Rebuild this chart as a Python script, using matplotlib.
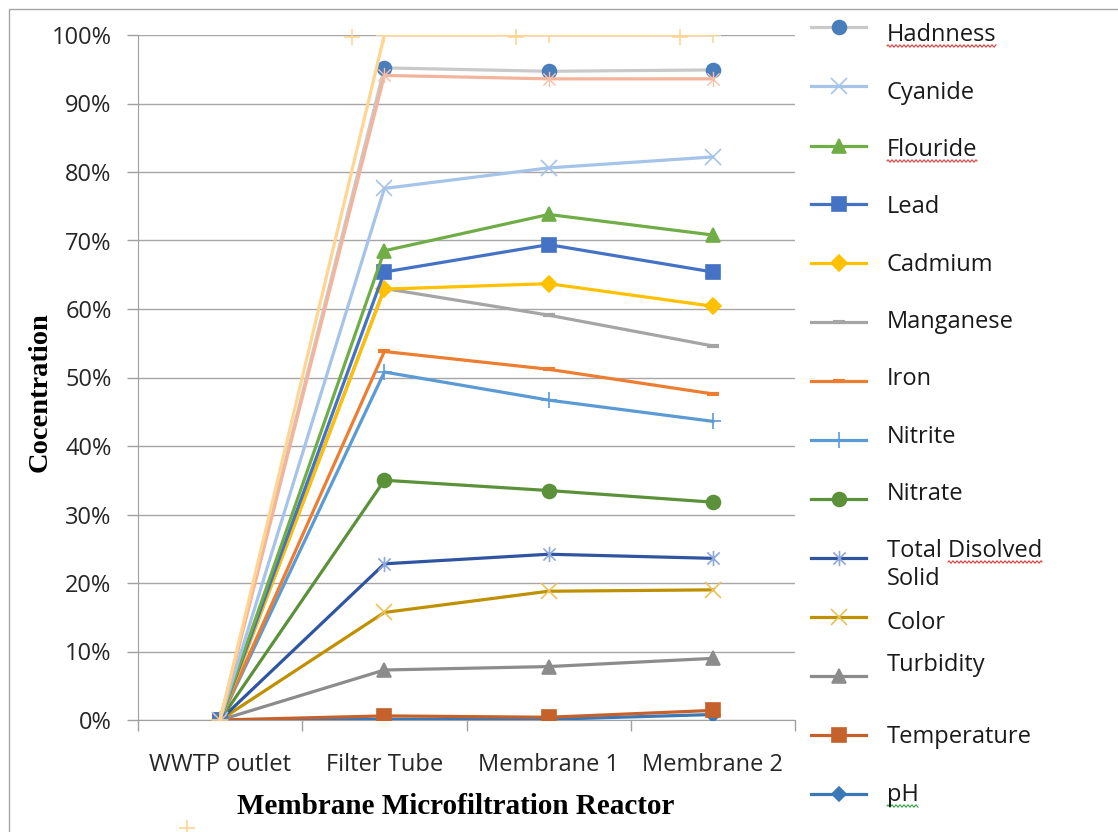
import numpy as np
import matplotlib
matplotlib.use('Agg')
import matplotlib.pyplot as plt
from matplotlib.path import Path
from matplotlib.lines import Line2D
from matplotlib.patches import Rectangle

# 数据（百分比）
categories = ['WWTP outlet', 'Filter Tube', 'Membrane 1', 'Membrane 2']
hadnness = [0, 95.2, 94.7, 94.9]
cyanide = [0, 77.6, 80.6, 82.2]
flouride = [0, 68.5, 73.8, 70.8]
lead = [0, 65.4, 69.4, 65.4]
cadmium = [0, 62.9, 63.7, 60.4]
manganese = [0, 63.0, 59.1, 54.6]
iron = [0, 53.8, 51.2, 47.6]
nitrite = [0, 50.8, 46.7, 43.6]
nitrate = [0, 35.0, 33.5, 31.8]
tds = [0, 22.8, 24.2, 23.6]
color = [0, 15.7, 18.8, 19.0]
turbidity = [0, 7.3, 7.8, 9.0]
temperature = [0, 0.6, 0.4, 1.4]
ph = [0, 0.1, 0.1, 0.8]
# 图例里没有的两条线
salmon_series = [0, 94.1, 93.6, 93.6]
peach_series = [0, 100, 100, 100]
peach_extra = [-15.8, 99.7, 99.7, 99.7]

# Excel 风格的星号标记 (x 加竖线)
star_path = Path([(0, -1), (0, 1), (-0.8, -0.8), (0.8, 0.8), (-0.8, 0.8), (0.8, -0.8)],
                 [Path.MOVETO, Path.LINETO, Path.MOVETO, Path.LINETO, Path.MOVETO, Path.LINETO])

# (名称, 数据, 线色, 标记, 标记色, 标记大小)
series = [
    ('pH', ph, '#3A78B8', 'D', '#3A78B8', 7),
    ('Temperature', temperature, '#C5612B', 's', '#C5612B', 10),
    ('Turbidity', turbidity, '#8C8C8C', '^', '#8C8C8C', 10),
    ('Color', color, '#BF9000', 'x', '#E8C35A', 11),
    ('Total Disolved\nSolid', tds, '#2F55A0', star_path, '#8FA8DC', 11),
    ('Nitrate', nitrate, '#5A9139', 'o', '#5A9139', 10),
    ('Nitrite', nitrite, '#5B9BD5', '+', '#5B9BD5', 11),
    ('Iron', iron, '#ED7D31', '_', '#ED7D31', 8),
    ('Manganese', manganese, '#A5A5A5', '_', '#A5A5A5', 8),
    ('Cadmium', cadmium, '#FFC000', 'D', '#FFC000', 8),
    ('Lead', lead, '#4472C4', 's', '#4472C4', 10),
    ('Flouride', flouride, '#70AD47', '^', '#70AD47', 10),
    ('Cyanide', cyanide, '#A6C3E9', 'x', '#A6C3E9', 11),
    ('Hadnness', hadnness, '#C9C9C9', 'o', '#4A7EBB', 10),
]

plt.rcParams['font.family'] = ['Open Sans', 'DejaVu Sans']
FS = 17

fig = plt.figure(figsize=(11.18, 8.32), dpi=100)
W, H = 1118, 832
ax = fig.add_axes([138 / W, 1 - 720 / H, (795 - 138) / W, (720 - 35) / H])

x = np.arange(len(categories))

for name, vals, lc, mk, mc, ms in series:
    ax.plot(x, vals, color=lc, lw=2.3, marker=mk, markersize=ms,
            markerfacecolor=mc, markeredgecolor=mc, markeredgewidth=1.2 if mk not in ('_',) else 3,
            solid_joinstyle='miter', zorder=3)

ax.plot(x, salmon_series, color='#F4B49C', lw=2.3, marker=star_path, markersize=11,
        markeredgecolor='#F6BFAB', markeredgewidth=1.0, zorder=3)
ax.plot(x, peach_series, color='#FFD592', lw=2.3, marker='+', markersize=12,
        markeredgecolor='#FFD592', markeredgewidth=1.2, zorder=3)
ax.plot(x - 0.2, peach_extra, ls='none', marker='+', markersize=12,
        markeredgecolor='#FFD592', markeredgewidth=1.2, zorder=3, clip_on=False)

ax.set_xlim(-0.5, 3.5)
ax.set_ylim(0, 100)
ax.set_yticks(np.arange(0, 101, 10))
ax.set_yticklabels([f'{v}%' for v in range(0, 101, 10)], fontsize=FS, color='#262626')
ax.set_xticks(x)
ax.set_xticklabels(categories, fontsize=FS, color='#262626')
ax.set_xticks(np.arange(-0.5, 3.6, 1), minor=True)
ax.tick_params(axis='x', which='major', length=0, pad=24)
ax.tick_params(axis='x', which='minor', length=8, color='#A0A0A0', width=1)
ax.tick_params(axis='y', length=8, color='#A0A0A0', width=1, pad=11)
ax.grid(axis='y', color='#A6A6A6', lw=1)
ax.set_axisbelow(True)
for s in ['top', 'right']:
    ax.spines[s].set_visible(False)
ax.spines['left'].set_color('#A0A0A0')
ax.spines['bottom'].set_color('#A0A0A0')

fig.text(40 / W, 1 - 392 / H, 'Cocentration', rotation=90, ha='center', va='center',
         fontsize=20.5, fontweight='bold', family='Liberation Serif')
fig.text(456 / W, 1 - 806 / H, 'Membrane Microfiltration Reactor', ha='center', va='center',
         fontsize=21, fontweight='bold', family='Liberation Serif')

# 图表外框
fig.patches.append(Rectangle((9 / W, -0.1), 1.2, 1 - 9 / H + 0.1, transform=fig.transFigure,
                             fill=False, edgecolor='#A6A6A6', lw=1))

# 图例（手工排版）
legend_rows = list(reversed(series))
line_y = [27, 86, 146, 204, 263, 322, 381, 440, 499, 558, 617, 676, 735, 794]
text_dy = [8, 7, 4, 3, 2, 0, -2, -3, -5, 0, 6, -11, 2, 1]
texts = []
for (name, vals, lc, mk, mc, ms), ly, dy in zip(legend_rows, line_y, text_dy):
    fig.add_artist(Line2D([811 / W, 866 / W], [1 - ly / H] * 2, color=lc, lw=2.3))
    fig.add_artist(Line2D([838.5 / W], [1 - ly / H], marker=mk, markersize=ms, color=mc,
                          markeredgewidth=1.2 if mk != '_' else 3, ls='none'))
    if name.startswith('Total'):
        t1 = fig.text(887 / W, 1 - 551 / H, 'Total Disolved', fontsize=FS, va='center', color='#1a1a1a')
        fig.text(887 / W, 1 - 579 / H, 'Solid', fontsize=FS, va='center', color='#1a1a1a')
        texts.append((name, t1))
    else:
        t = fig.text(887 / W, 1 - (ly + dy) / H, name, fontsize=FS, va='center', color='#1a1a1a')
        texts.append((name, t))

# 拼写检查的波浪下划线
fig.canvas.draw()
renderer = fig.canvas.get_renderer()
probe = fig.text(0, 0, 'Total ', fontsize=FS)
probe_w = probe.get_window_extent(renderer).width
probe.remove()
for name, t in texts:
    if name not in ('Hadnness', 'Flouride', 'Total Disolved\nSolid', 'pH'):
        continue
    bb = t.get_window_extent(renderer)
    x0 = bb.x0 + (probe_w if name.startswith('Total') else 0)
    xs = np.arange(x0, bb.x1, 1.0)
    ys = bb.y0 + 1 + 1.2 * np.sin((xs - x0) * np.pi / 2)
    wc = '#2EA043' if name == 'pH' else '#E03C3C'
    fig.add_artist(Line2D(xs / W, ys / H, color=wc, lw=0.8))

fig.savefig('out.png', dpi=100)
